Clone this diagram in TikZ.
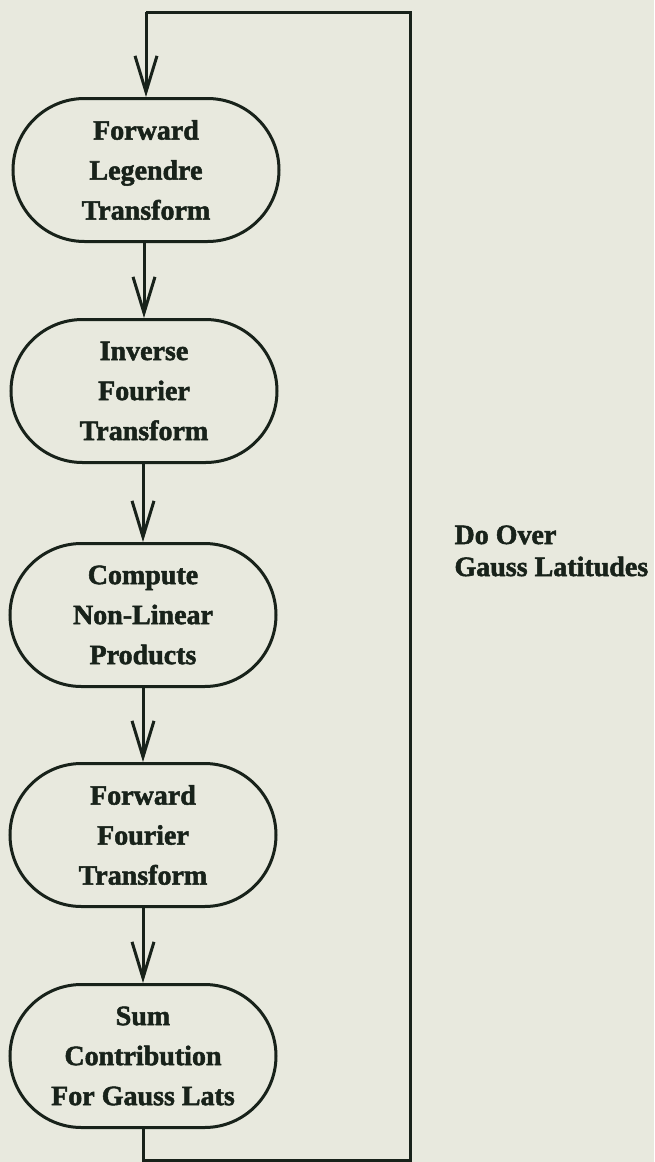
\documentclass[tikz,border=0pt]{standalone}
\usepackage{fontspec}
\setmainfont{Liberation Serif}[BoldFeatures={FakeBold=1.8}]
\usetikzlibrary{shapes.misc,arrows.meta}
\definecolor{paper}{RGB}{232,233,222}
\definecolor{ink}{RGB}{24,34,26}
\begin{document}
\begin{tikzpicture}[x=1pt,y=-1pt,
  line width=3pt, draw=ink, line join=miter,
  stage/.style={rounded rectangle, draw=ink, line width=3pt,
    minimum width=266pt, minimum height=143pt, inner sep=0pt,
    align=center, text=ink,
    font=\fontsize{28pt}{40pt}\selectfont\bfseries},
  flow/.style={draw=ink, line width=3pt,
    -{Straight Barb[length=36pt,width=22pt,line width=3pt]}},
  loopline/.style={draw=ink, line width=3pt},
  note/.style={text=ink, align=left, inner sep=0pt,
    font=\fontsize{28pt}{34pt}\selectfont\bfseries}]
  % page
  \fill[paper] (0,0) rectangle (654,1162);
  \useasboundingbox (0,0) rectangle (654,1162);

  % processing stages
  \node[stage] (n1) at (146,170) {Forward\\Legendre\\Transform};
  \node[stage] (n2) at (144,391) {Inverse\\Fourier\\Transform};
  \node[stage] (n3) at (143,615) {Compute\\Non-Linear\\Products};
  \node[stage] (n4) at (143,835) {Forward\\Fourier\\Transform};
  \node[stage] (n5) at (143,1056) {Sum\\Contribution\\For Gauss Lats};

  % loop label
  \node[note, anchor=base west] (lbl0) at (453,544) {Do Over};
  \node[note, anchor=base west] (lbl) at (453,576) {Gauss Latitudes};

  % straight flow
  \draw[flow] (n2.north |- n1.south) -- (n2.north);
  \draw[flow] (n3.north |- n2.south) -- (n3.north);
  \draw[flow] (n3.south) -- (n4.north);
  \draw[flow] (n4.south) -- (n5.north);

  % return loop over the latitudes
  \coordinate (bl) at (n5.south |- 0,1160);
  \coordinate (br) at (410,1160);
  \coordinate (tr) at (410,12);
  \coordinate (tl) at (n1.north |- 0,12);
  \draw[loopline] (n5.south) -- (bl) -- (br) -- (tr) -- (tl);
  \draw[flow] (tl) -- (n1.north);
\end{tikzpicture}
\end{document}
